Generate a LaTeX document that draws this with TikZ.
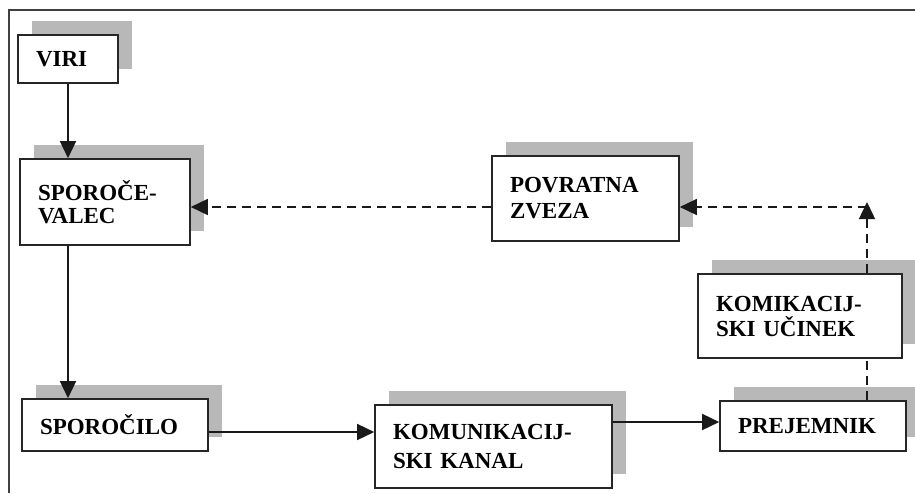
\documentclass[tikz,border=0pt]{standalone}
\usepackage{fontspec}
\setmainfont{Liberation Serif}
\usetikzlibrary{arrows.meta,shadows}
\begin{document}
\begin{tikzpicture}[x=1pt,y=-1pt,
  box/.style={draw=black!85, line width=1.6pt, fill=white, align=left,
    inner xsep=18pt, inner ysep=0pt,
    general shadow={shadow xshift=14pt, shadow yshift=14pt, fill=black!28},
    font=\bfseries\fontsize{23}{#1}\selectfont},
  box/.default=26,
  conn/.style={line width=1.5pt, draw=black!90},
  tip/.style={-{Triangle[length=17pt,width=16pt]}},
  dsh/.style={dash pattern=on 9pt off 6pt}]
\useasboundingbox (0,0) rectangle (915,493);
\draw[line width=1.3pt, black!75] (915,10) -- (9,10) -- (9,493);

\node[box, text width=64pt, minimum height=48pt] (viri) at (68,59) {VIRI};
\node[box=23, text width=134pt, minimum height=86pt] (sender) at (105,202) {SPOROČE-\\VALEC};
\node[box=26, text width=151pt, minimum height=85pt] (feedback) at (585.5,198.5) {POVRATNA\\ZVEZA};
\node[box=25, text width=168pt, minimum height=84pt] (effect) at (800,316) {KOMIKACIJ-\\SKI UČINEK};
\node[box, text width=150pt, minimum height=50pt] (receiver) at (813,426) {PREJEMNIK};
\node[box, text width=150pt, minimum height=52pt] (message) at (115,425) {SPOROČILO};
\node[box=29, text width=201pt, minimum height=83pt] (channel) at (493.5,446.5) {KOMUNIKACIJ-\\SKI KANAL};

\coordinate (cx) at (867,207);
\coordinate (cxtop) at (867,202);

\draw[conn,tip] (viri.south) -- (viri.south |- sender.north);
\draw[conn,tip] (sender.south -| viri.south) -- (message.north -| viri.south);
\draw[conn,tip] ([yshift=-7pt]message.east) coordinate (m1) -- (m1 -| channel.west);
\draw[conn,tip] ([yshift=4pt]receiver.west -| channel.east) -- ([yshift=4pt]receiver.west);
\draw[conn,dsh] (receiver.north -| cx) -- (effect.south -| cx);
\draw[conn,dsh,tip] (effect.north -| cx) -- (cxtop);
\draw[conn,dsh,tip] (cx) -- (cx -| feedback.east);
\draw[conn,dsh,tip] (feedback.west |- cx) -- (sender.east |- cx);
\end{tikzpicture}
\end{document}
